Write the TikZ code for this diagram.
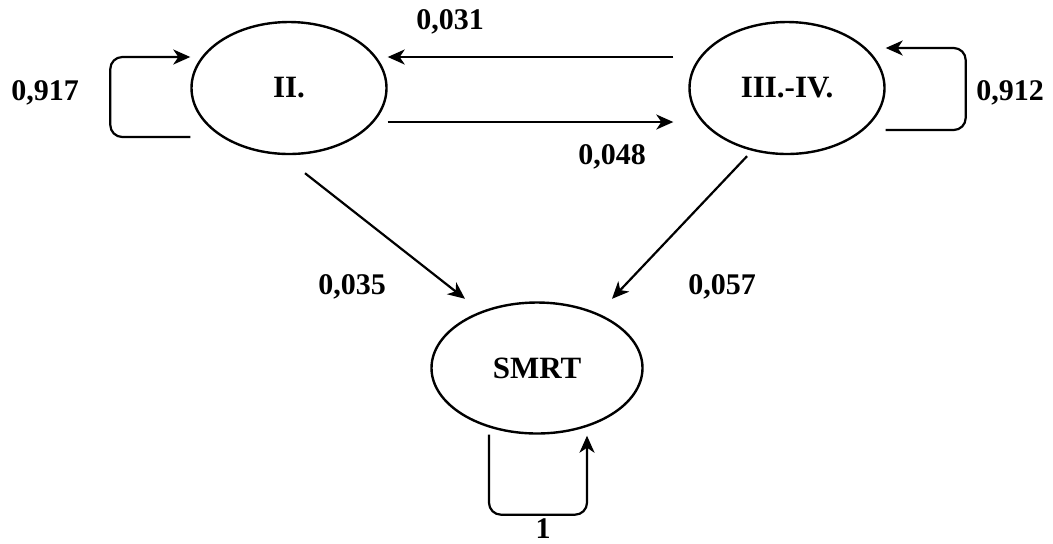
\documentclass[tikz,border=0pt]{standalone}
\usepackage{fontspec}
\setmainfont{Liberation Serif}
\usetikzlibrary{shapes.geometric,arrows.meta,calc}
\begin{document}
\begin{tikzpicture}[x=0.5pt,y=-0.5pt,
    state/.style={draw,ellipse,line width=1.2pt,inner sep=0pt,minimum width=97.5pt,minimum height=66pt,font=\fontsize{15.5}{18}\selectfont\bfseries},
    prob/.style={font=\fontsize{15}{18}\selectfont\bfseries},
    arr/.style={line width=1.1pt,-{Stealth[length=8.5pt,width=7.5pt,inset=2.5pt]}},
    loop/.style={arr,rounded corners=6pt}]
    \useasboundingbox (0,0) rectangle (1053,543);
    % stavy
    \node[state] (ii) at (289,88) {II.};
    \node[state] (iiiiv) at (787,88) {III.-IV.};
    \node[state,minimum width=105.5pt,minimum height=65.5pt] (smrt) at (537,368) {SMRT};
    % prechody
    \draw[arr] ($(iiiiv.west)+(-15,-31)$) -- ($(ii.east)+(0,-31)$);
    \draw[arr] ($(ii.east)+(0,34)$) -- ($(iiiiv.west)+(-15,34)$);
    \draw[arr] ($(ii.south)+(16,18)$) -- ($(smrt.north)+(-72,-2.5)$);
    \draw[arr] ($(iiiiv.south)+(-40,1)$) -- ($(smrt.north)+(75,-2.5)$);
    % smycky
    \draw[loop] ($(ii.west)+(0,49)$) -- ++(-80,0) |- ($(ii.west)+(0,-31)$);
    \draw[loop] ($(iiiiv.east)+(0,42)$) -- ++(80,0) |- ($(iiiiv.east)+(0,-40)$);
    \draw[loop] ($(smrt.south)+(-48,0)$) -- ++(0,80) -| ($(smrt.south)+(50,1)$);
    % pravdepodobnosti
    \node[prob] (p917) at (45,93) {0,917};
    \node[prob] (p912) at (1010,93) {0,912};
    \node[prob] (p031) at (450,22) {0,031};
    \node[prob] (p048) at (612,157) {0,048};
    \node[prob] (p035) at (352,287) {0,035};
    \node[prob] (p057) at (722,287) {0,057};
    \node[prob] (p1) at (543,529) {1};
\end{tikzpicture}
\end{document}
